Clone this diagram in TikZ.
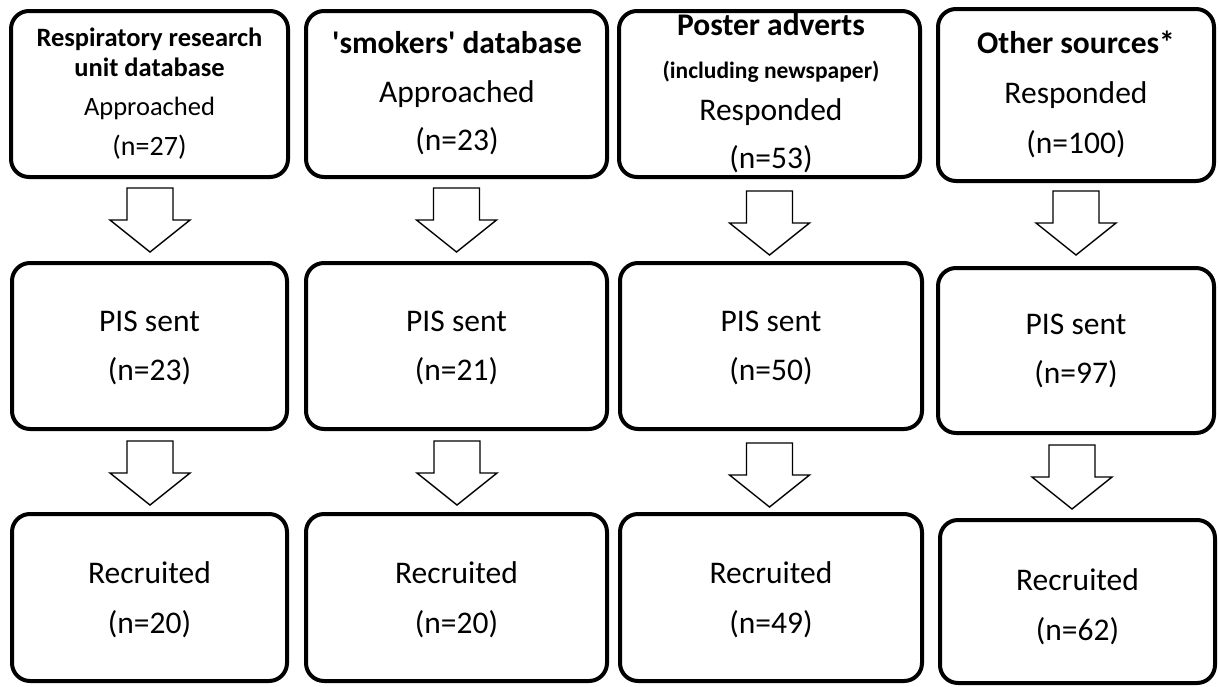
\documentclass[tikz,border=0pt]{standalone}
\usepackage{fontspec}
\setmainfont{Carlito}
\begin{document}
\begin{tikzpicture}[x=1pt,y=-1pt,
  box/.style={draw=black, line width=4pt, rounded corners=18pt, inner sep=0pt, fill=white},
  txt/.style={anchor=base, inner sep=0pt, font=\fontsize{31.5}{36}\selectfont},
  small/.style={anchor=base, inner sep=0pt, font=\fontsize{26.5}{30}\selectfont},
  ttl/.style={anchor=base, inner sep=0pt, font=\bfseries\fontsize{31.5}{36}\selectfont},
  barrow/.pic={\draw[line width=1.4pt, fill=white, line join=miter]
      (-23,0) -- (23,0) -- (23,32) -- (40,32) -- (0,64) -- (-40,32) -- (-23,32) -- cycle;}]
\useasboundingbox (0,0) rectangle (1219,686);

% row 1
\node[box, minimum width=277pt, minimum height=166pt] (b11) at (149.5,94) {};
\node[box, minimum width=301pt, minimum height=166pt] (b12) at (456.5,94) {};
\node[box, minimum width=301pt, minimum height=166pt] (b13) at (769.5,94) {};
\node[box, minimum width=276pt, minimum height=172pt] (b14) at (1076,95) {};
% row 2
\node[box, minimum width=275pt, minimum height=166pt] (b21) at (149.5,346) {};
\node[box, minimum width=301pt, minimum height=166pt] (b22) at (456.5,346) {};
\node[box, minimum width=302pt, minimum height=166pt] (b23) at (771,346) {};
\node[box, minimum width=276pt, minimum height=165pt] (b24) at (1076,350.5) {};
% row 3
\node[box, minimum width=275pt, minimum height=167pt] (b31) at (149.5,597.5) {};
\node[box, minimum width=301pt, minimum height=167pt] (b32) at (456.5,597.5) {};
\node[box, minimum width=302pt, minimum height=167pt] (b33) at (771,597.5) {};
\node[box, minimum width=275pt, minimum height=163pt] (b34) at (1077.5,601.5) {};

% block arrows
\pic at (150,188) {barrow};
\pic at (456.5,188) {barrow};
\pic at (769.5,191) {barrow};
\pic at (1076,191) {barrow};
\pic at (150,441) {barrow};
\pic at (457,441) {barrow};
\pic at (769.5,443) {barrow};
\pic at (1072,445) {barrow};

% texts row 1
\node[anchor=base, inner sep=0pt, font=\bfseries\fontsize{26.5}{30}\selectfont] (t11a) at (149.5,46) {Respiratory research};
\node[anchor=base, inner sep=0pt, font=\bfseries\fontsize{26.5}{30}\selectfont] (t11b) at (149.5,76) {unit database};
\node[small] (t11c) at (149.5,115) {Approached};
\node[anchor=base, inner sep=0pt, font=\fontsize{28}{32}\selectfont] (t11d) at (149.5,155) {(n=27)};

\node[ttl] (t12a) at (457,53) {\textquotesingle smokers\textquotesingle{} database};
\node[txt] (t12b) at (457,102) {Approached};
\node[txt] (t12c) at (457,150) {(n=23)};

\node[ttl] (t13a) at (771,35) {Poster adverts};
\node[anchor=base, inner sep=0pt, font=\bfseries\fontsize{23.5}{27}\selectfont] (t13b) at (771,78) {(including newspaper)};
\node[txt] (t13c) at (771,120) {Responded};
\node[txt] (t13d) at (771,168) {(n=53)};

\node[ttl] (t14a) at (1076,53) {Other sources*};
\node[txt] (t14b) at (1076,103) {Responded};
\node[txt] (t14c) at (1076,153) {(n=100)};

% texts row 2
\node[txt] (t21a) at (149.5,331) {PIS sent};
\node[txt] (t21b) at (149.5,380) {(n=23)};
\node[txt] (t22a) at (456.5,331) {PIS sent};
\node[txt] (t22b) at (456.5,380) {(n=21)};
\node[txt] (t23a) at (771,331) {PIS sent};
\node[txt] (t23b) at (771,380) {(n=50)};
\node[txt] (t24a) at (1076,334) {PIS sent};
\node[txt] (t24b) at (1076,383) {(n=97)};

% texts row 3
\node[txt] (t31a) at (149.5,583) {Recruited};
\node[txt] (t31b) at (149.5,633) {(n=20)};
\node[txt] (t32a) at (456.5,583) {Recruited};
\node[txt] (t32b) at (456.5,633) {(n=20)};
\node[txt] (t33a) at (771,583) {Recruited};
\node[txt] (t33b) at (771,633) {(n=49)};
\node[txt] (t34a) at (1077.5,590) {Recruited};
\node[txt] (t34b) at (1077.5,640) {(n=62)};
\end{tikzpicture}
\end{document}
